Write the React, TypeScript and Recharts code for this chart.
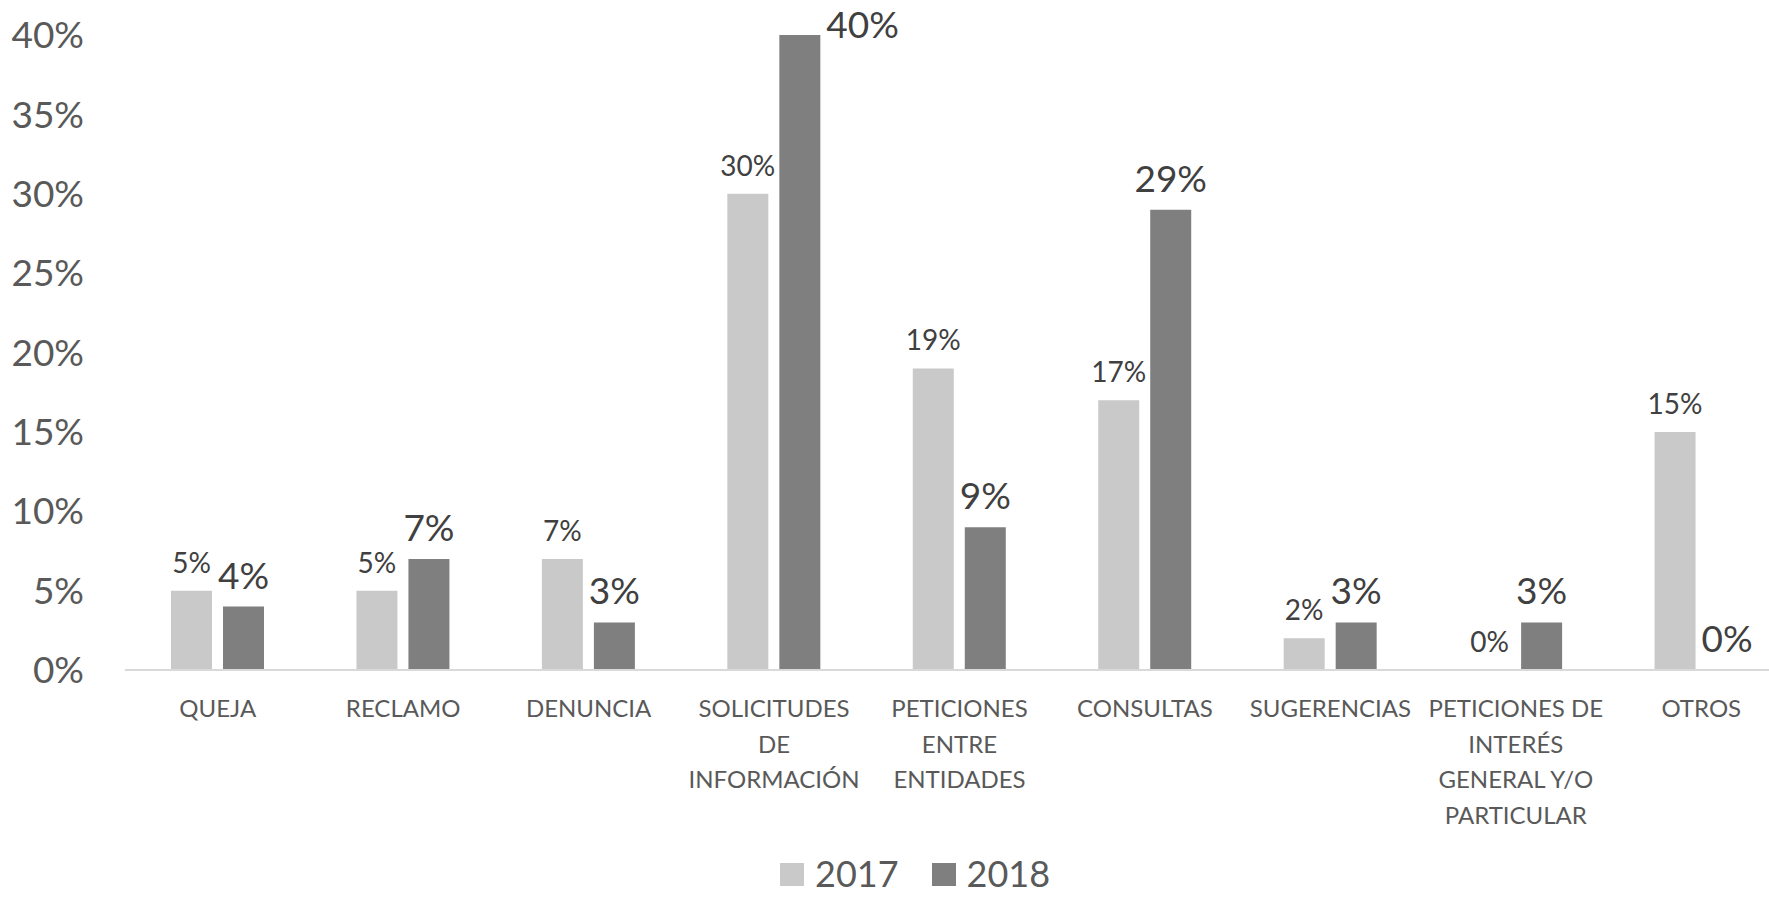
import { BarChart, Bar, XAxis, YAxis, Legend } from 'recharts'

const CATEGORIES = [
  'QUEJA',
  'RECLAMO',
  'DENUNCIA',
  'SOLICITUDES DE INFORMACIÓN',
  'PETICIONES ENTRE ENTIDADES',
  'CONSULTAS',
  'SUGERENCIAS',
  'PETICIONES DE INTERÉS GENERAL Y/O PARTICULAR',
  'OTROS',
]

const TICK_LINES = [
  ['QUEJA'],
  ['RECLAMO'],
  ['DENUNCIA'],
  ['SOLICITUDES', 'DE', 'INFORMACIÓN'],
  ['PETICIONES', 'ENTRE', 'ENTIDADES'],
  ['CONSULTAS'],
  ['SUGERENCIAS'],
  ['PETICIONES DE', 'INTERÉS', 'GENERAL Y/O', 'PARTICULAR'],
  ['OTROS'],
]

const VALUES_2017 = [5, 5, 7, 30, 19, 17, 2, 0, 15]
const VALUES_2018 = [4, 7, 3, 40, 9, 29, 3, 3, 0]

const Y_TICKS = [0, 5, 10, 15, 20, 25, 30, 35, 40]

const SERIES = [
  { key: 'y2017', name: '2017', color: '#c9c9c9', labelSize: 28 },
  { key: 'y2018', name: '2018', color: '#7f7f7f', labelSize: 37 },
]

const data = CATEGORIES.map((c, i) => ({ category: c, y2017: VALUES_2017[i], y2018: VALUES_2018[i] }))

const FONT = 'Lato, "Open Sans", sans-serif'

function CategoryTick(props: any) {
  const { x, y, payload } = props
  const idx = CATEGORIES.indexOf(payload.value)
  const lines = TICK_LINES[idx] || [payload.value]
  return (
    <text x={x} y={y + 47} textAnchor="middle" fill="#595959" fontSize={24} fontFamily={FONT}>
      {lines.map((l, i) => (
        <tspan key={i} x={x} dy={i === 0 ? 0 : 35.5}>
          {l}
        </tspan>
      ))}
    </text>
  )
}

function makeLabel(size: number) {
  return (props: any) => {
    const { x, y, width, value } = props
    const offset = 18
    const text = `${value}%`
    // no room above the bar: put the label at the right of its top, like Excel does
    if (y - offset - size * 0.72 < 0) {
      return (
        <text x={x + width + 6} y={y + 3} textAnchor="start" fill="#404040" fontSize={size} fontFamily={FONT}>
          {text}
        </text>
      )
    }
    return (
      <text x={x + width / 2} y={y - offset} textAnchor="middle" fill="#404040" fontSize={size} fontFamily={FONT}>
        {text}
      </text>
    )
  }
}

function LegendContent() {
  return (
    <div style={{ display: 'flex', alignItems: 'center', fontFamily: FONT, fontSize: 36, color: '#595959' }}>
      {SERIES.map((s) => (
        <div key={s.key} style={{ display: 'flex', alignItems: 'center', marginRight: 33 }}>
          <span style={{ display: 'inline-block', width: 24, height: 23, background: s.color, marginRight: 11, position: 'relative', top: 1 }} />
          <span style={{ lineHeight: '30px' }}>{s.name}</span>
        </div>
      ))}
    </div>
  )
}

export default function App() {
  return (
    <div style={{ position: 'absolute', top: 0, left: 0, width: 1769, height: 898, overflow: 'hidden', background: '#fff' }}>
      <BarChart
        width={1830}
        height={900}
        data={data}
        margin={{ top: 35, right: 36, left: 0, bottom: 30 }}
        barSize={41}
        barGap={11}
      >
        <YAxis
          domain={[0, 40]}
          ticks={Y_TICKS}
          width={125}
          axisLine={false}
          tickLine={false}
          tickSize={0}
          tickMargin={41}
          tickFormatter={(v) => `${v}%`}
          tick={{ fill: '#595959', fontSize: 37, fontFamily: FONT }}
        />
        <XAxis
          dataKey="category"
          height={200}
          interval={0}
          tickLine={false}
          tickSize={0}
          tickMargin={0}
          axisLine={{ stroke: '#d9d9d9', strokeWidth: 2 }}
          tick={<CategoryTick />}
        />
        <Legend
          layout="horizontal"
          verticalAlign="middle"
          align="center"
          content={<LegendContent />}
          wrapperStyle={{ top: 858, left: 780, width: 'auto' }}
        />
        {SERIES.map((s) => (
          <Bar
            key={s.key}
            dataKey={s.key}
            name={s.name}
            fill={s.color}
            isAnimationActive={false}
            minPointSize={(v: number) => (v === 0 ? 0.001 : 0)}
            label={makeLabel(s.labelSize)}
          />
        ))}
      </BarChart>
    </div>
  )
}
